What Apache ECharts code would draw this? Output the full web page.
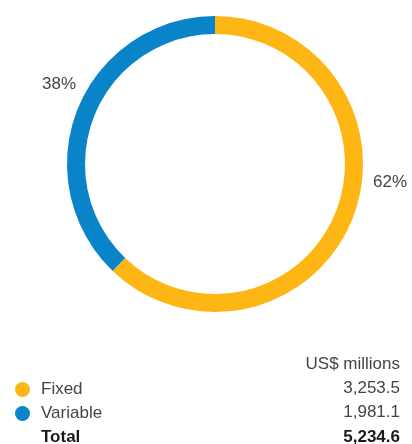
<!DOCTYPE html>
<html>
<head>
<meta charset="utf-8">
<script src="https://cdn.jsdelivr.net/npm/echarts@6/dist/echarts.min.js"></script>
<style>
html,body{margin:0;padding:0;background:#fff;}
#main{width:412px;height:444px;}
</style>
</head>
<body>
<div id="main"></div>
<script type="text/javascript">
// chart data
var categories = ['Fixed', 'Variable'];
var values = [3253.5, 1981.1];
var colors = ['#FDB614', '#0A84C8'];
var unitLabel = 'US$ millions';
var totalLabel = 'Total';

var total = values[0] + values[1];
function fmt(v){
	return v.toLocaleString('en-US', {minimumFractionDigits: 1, maximumFractionDigits: 1});
}
function pct(v){ return Math.round(v / total * 100) + '%'; }

var txtColor = '#444';
var font = '"Liberation Sans", Arial, sans-serif';
var fs = 17;

function txt(x, y, s, align, bold){
	return { type: 'text', x: x, y: y, silent: true, style: {
		text: s, fontSize: fs, fontFamily: font, fill: bold ? '#1a1a1a' : txtColor,
		fontWeight: bold ? 'bold' : 'normal', align: align, verticalAlign: 'middle'
	} };
}

var myChart = echarts.init(document.getElementById('main'));

var option = {
	animation: false,
	color: colors,
	legend: {
		orient: 'vertical',
		left: 10,
		top: 376,
		icon: 'circle',
		itemWidth: 15,
		itemHeight: 15,
		itemGap: 7,
		selectedMode: false,
		textStyle: { fontSize: fs, color: txtColor, fontFamily: font, padding: [0, 0, 0, 6] },
		data: categories
	},
	series: [{
		type: 'pie',
		center: [215, 164],
		radius: [130, 148],
		startAngle: 90,
		clockwise: true,
		silent: true,
		label: { show: false },
		labelLine: { show: false },
		data: categories.map(function(c, i){ return { name: c, value: values[i] }; })
	}],
	graphic: [
		txt(373, 182, pct(values[0]), 'left'),
		txt(42, 84.5, pct(values[1]), 'left'),
		txt(400, 364, unitLabel, 'right'),
		txt(400, 388.5, fmt(values[0]), 'right'),
		txt(400, 412, fmt(values[1]), 'right'),
		txt(41, 437, totalLabel, 'left', true),
		txt(400, 437, fmt(total), 'right', true)
	]
};

myChart.setOption(option);
</script>
</body>
</html>
